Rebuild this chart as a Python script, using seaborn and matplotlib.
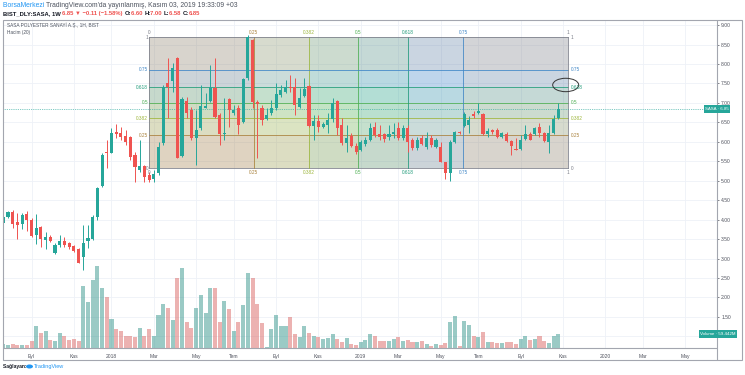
import matplotlib
matplotlib.use("Agg")
import matplotlib.pyplot as plt
import matplotlib.dates as mdates
from matplotlib.patches import Rectangle, Ellipse
from matplotlib.lines import Line2D
import pandas as pd
import seaborn as sns

# weekly candles, first bar week of 2017-07-24
first_week = "2017-07-24"
opens = [3.90, 4.06, 4.19, 3.94, 3.88, 4.14, 3.99, 3.60, 3.80, 3.47,
         3.56, 3.14, 3.35, 3.46, 3.39, 3.32, 3.24, 3.05, 3.46, 3.51,
         4.07, 4.86, 5.72, 5.72, 6.25, 6.22, 6.15, 6.12, 5.66, 5.27,
         5.39, 5.15, 5.05, 5.21, 5.96, 7.50, 7.55, 8.15, 5.64, 7.05,
         6.82, 6.11, 6.35, 6.88, 7.05, 7.39, 6.69, 6.20, 7.10, 6.75,
         6.88, 6.50, 7.65, 8.62, 7.03, 6.88, 6.59, 6.73, 6.86, 7.20,
         7.29, 7.42, 7.40, 6.90, 7.18, 7.44, 6.41, 6.53, 6.38, 6.43,
         6.59, 7.05, 6.43, 5.98, 6.15, 5.90, 5.79, 5.94, 6.05, 6.38,
         6.20, 6.19, 6.12, 6.19, 6.35, 6.11, 6.36, 6.05, 5.83, 6.09,
         5.87, 6.09, 5.87, 5.87, 5.47, 5.19, 5.99, 6.26, 6.41, 6.43,
         6.71, 6.74, 6.71, 6.19, 6.30, 6.30, 6.13, 6.19, 6.02, 5.81,
         5.81, 6.06, 6.19, 6.19, 6.39, 6.22, 5.99, 6.22, 6.60]
highs = [4.15, 4.22, 4.25, 4.17, 4.16, 4.22, 4.03, 4.14, 3.84, 3.69,
         3.60, 3.39, 3.60, 3.56, 3.43, 3.34, 3.26, 3.86, 3.86, 4.12,
         4.83, 5.72, 6.05, 6.35, 6.45, 6.37, 6.30, 6.14, 5.75, 6.05,
         5.40, 5.23, 5.28, 6.00, 7.46, 8.15, 8.02, 8.19, 7.16, 7.16,
         6.90, 6.82, 7.46, 7.25, 7.97, 8.15, 6.73, 7.13, 7.13, 6.95,
         6.95, 7.63, 8.75, 8.65, 7.07, 6.95, 6.86, 7.07, 7.50, 7.46,
         7.59, 7.72, 7.63, 7.38, 7.63, 7.46, 6.69, 6.69, 6.52, 6.73,
         7.12, 7.07, 6.60, 6.43, 6.22, 5.96, 6.05, 6.13, 6.48, 6.52,
         6.43, 6.22, 6.43, 6.48, 6.52, 6.43, 6.43, 6.09, 6.13, 6.17,
         6.26, 6.17, 6.09, 6.00, 5.49, 6.05, 6.28, 6.27, 6.76, 6.65,
         6.79, 6.99, 6.73, 6.35, 6.33, 6.35, 6.26, 6.26, 6.05, 6.09,
         6.17, 6.43, 6.26, 6.39, 6.48, 6.26, 6.43, 6.69, 7.00]
lows = [3.80, 4.03, 3.78, 3.50, 3.75, 3.71, 3.56, 3.37, 3.30, 3.25,
        3.43, 3.12, 3.30, 3.30, 3.25, 3.17, 2.88, 2.70, 3.26, 3.48,
        3.99, 4.85, 5.33, 5.70, 6.09, 6.05, 5.92, 5.53, 4.97, 5.23,
        4.97, 4.97, 4.97, 5.15, 5.92, 6.60, 7.29, 5.58, 5.62, 6.60,
        6.05, 5.40, 6.30, 6.86, 7.03, 6.60, 5.92, 6.05, 6.39, 6.69,
        6.19, 6.48, 7.60, 6.86, 5.58, 6.43, 6.56, 6.69, 6.82, 7.16,
        7.25, 7.29, 6.69, 6.86, 7.16, 6.39, 6.05, 6.26, 6.35, 6.22,
        6.52, 6.17, 5.92, 5.75, 5.87, 5.68, 5.76, 5.90, 6.02, 6.13,
        6.05, 5.99, 6.05, 6.09, 6.05, 6.05, 5.75, 5.79, 5.79, 5.92,
        5.81, 5.87, 5.83, 5.47, 5.04, 4.99, 5.96, 6.20, 6.39, 6.22,
        6.60, 6.71, 6.17, 6.13, 6.20, 6.09, 6.09, 5.99, 5.66, 5.79,
        5.80, 6.05, 6.05, 6.17, 6.13, 5.99, 5.70, 6.19, 6.58]
closes = [4.06, 4.19, 3.88, 3.85, 4.12, 3.99, 3.58, 3.78, 3.50, 3.56,
          3.46, 3.35, 3.46, 3.34, 3.29, 3.20, 2.89, 3.39, 3.53, 4.06,
          4.80, 5.66, 5.70, 6.22, 6.21, 6.12, 6.00, 5.62, 5.36, 5.39,
          5.09, 5.02, 5.17, 5.87, 7.42, 7.40, 7.89, 5.59, 7.10, 6.73,
          6.11, 6.30, 6.91, 6.93, 7.41, 6.64, 6.19, 6.23, 6.82, 6.82,
          6.43, 7.61, 8.70, 7.02, 6.96, 6.56, 6.69, 6.88, 7.22, 7.32,
          7.41, 7.38, 6.95, 7.12, 7.35, 6.41, 6.53, 6.38, 6.45, 6.56,
          6.99, 6.35, 5.96, 6.11, 5.90, 5.75, 5.99, 6.05, 6.36, 6.17,
          6.12, 6.07, 6.21, 6.26, 6.09, 6.36, 6.00, 5.83, 6.05, 5.94,
          6.11, 5.92, 6.05, 5.49, 5.19, 6.00, 6.24, 6.22, 6.71, 6.56,
          6.66, 6.79, 6.19, 6.28, 6.24, 6.13, 6.22, 6.02, 5.90, 5.80,
          6.05, 6.21, 6.05, 6.35, 6.22, 6.02, 6.22, 6.59, 6.85]
# volume, millions
volumes = [18, 13, 17, 11, 14, 11, 31, 95, 62, 72,
           35, 31, 65, 50, 35, 38, 30, 265, 196, 288,
           350, 255, 218, 123, 82, 71, 52, 52, 45, 84,
           49, 81, 51, 140, 186, 171, 119, 299, 339, 112,
           86, 169, 225, 147, 254, 254, 112, 200, 166, 72,
           109, 183, 317, 296, 186, 105, 6, 81, 140, 95,
           95, 133, 58, 47, 92, 64, 51, 45, 38, 41,
           61, 38, 27, 41, 17, 13, 24, 34, 61, 51,
           28, 28, 31, 40, 45, 28, 33, 24, 26, 30,
           16, 10, 17, 13, 21, 110, 137, 10, 115, 96,
           52, 47, 67, 26, 24, 20, 21, 24, 27, 17,
           40, 51, 35, 40, 51, 30, 20, 50, 59.442]

tick_dates = ["2017-09-04", "2017-11-06", "2018-01-01", "2018-03-05", "2018-05-07",
              "2018-07-02", "2018-09-03", "2018-11-05", "2019-01-07", "2019-03-04",
              "2019-05-06", "2019-07-01", "2019-09-02", "2019-11-04", "2020-01-06",
              "2020-03-02", "2020-05-04"]
tick_labels = ["Eyl", "Kas", "2018", "Mar", "May", "Tem", "Eyl", "Kas", "2019",
               "Mar", "May", "Tem", "Eyl", "Kas", "2020", "Mar", "May"]
price_ticks = [1.0, 1.5, 2.0, 2.5, 3.0, 3.5, 4.0, 4.5, 5.0, 5.5, 6.0, 6.5,
               7.0, 7.5, 8.0, 8.5, 9.0]

# gann box drawing
box_start, box_end = "2018-02-26", "2019-11-11"
box_low, box_high = 5.32, 8.69
box_levels = [0, 0.25, 0.382, 0.5, 0.618, 0.75, 1]
box_colors = ["#787b86", "#a8803a", "#9cb53a", "#4caf50", "#1e9a78", "#3d85c6", "#787b86"]
band_colors = ["#a07a45", "#94b048", "#4caf50", "#1a9c84", "#3b83c8", "#7d7f88"]
circle_date, circle_price = "2019-11-08", 7.46

UP, DOWN = "#26a69a", "#ef5350"
W, H = 745, 375

df = pd.DataFrame({"open": opens, "high": highs, "low": lows,
                   "close": closes, "volume": volumes})
df["date"] = pd.date_range(first_week, periods=len(df), freq="7D")
df["x"] = mdates.date2num(df["date"])
df["dir"] = ["up" if c >= o else "down" for o, c in zip(df["open"], df["close"])]
colors = [UP if d == "up" else DOWN for d in df["dir"]]

sns.set_theme(style="white")
plt.rcParams["font.family"] = ["Liberation Sans", "DejaVu Sans"]

fig = plt.figure(figsize=(7.45, 3.75), dpi=100)
ax = fig.add_axes([2.5 / W, 1 - 348 / H, (717 - 2.5) / W, (348 - 20) / H])
d0 = df["x"].iloc[0]
ax.set_xlim(d0 - 1.2, d0 + 1062.2)
ax.set_ylim(0.70, 9.13)

# grid
tx = mdates.date2num(pd.to_datetime(tick_dates))
for v in tx:
    ax.axvline(v, color="#eef1f7", lw=0.6, zorder=0)
for p in price_ticks:
    ax.axhline(p, color="#eef1f7", lw=0.6, zorder=0)

# gann box
bx0, bx1 = mdates.date2num(pd.to_datetime([box_start, box_end]))
bw, bh = bx1 - bx0, box_high - box_low
for i in range(6):
    a, b = box_levels[i], box_levels[i + 1]
    ax.add_patch(Rectangle((bx0 + a * bw, box_low), (b - a) * bw, bh,
                           color=band_colors[i], alpha=0.18, lw=0, zorder=1))
    ax.add_patch(Rectangle((bx0, box_low + a * bh), bw, (b - a) * bh,
                           color=band_colors[i], alpha=0.18, lw=0, zorder=1))
for lv, c in zip(box_levels, box_colors):
    ax.plot([bx0 + lv * bw] * 2, [box_low, box_high], color=c, lw=0.7, alpha=0.8, zorder=2)
    ax.plot([bx0, bx1], [box_low + lv * bh] * 2, color=c, lw=0.7, alpha=0.8, zorder=2)

# candles
bodies = (df["close"] - df["open"]).abs().clip(lower=0.025)
bottoms = df[["open", "close"]].min(axis=1)
ax.vlines(df["x"], df["low"], df["high"], colors=colors, lw=0.7, zorder=3)
ax.bar(df["x"], bodies, bottom=bottoms, width=4.6, color=colors, lw=0, zorder=4)

# last price line
last = df["close"].iloc[-1]
ax.axhline(last, color=UP, lw=0.6, ls=(0, (1, 1.2)), alpha=0.8, zorder=2)

# volume overlay
vax = ax.twinx()
sns.barplot(data=df, x="x", y="volume", hue="dir", palette={"up": UP, "down": DOWN},
            native_scale=True, dodge=False, width=0.86, alpha=0.5, linewidth=0,
            errorbar=None, legend=False, ax=vax)
vax.set_ylim(0, 1393)
vax.set_xlim(d0 - 1.2, d0 + 1062.2)
vax.set_yticks([])
vax.set_xlabel("")
vax.set_ylabel("")
for s in vax.spines.values():
    s.set_visible(False)

ax.add_patch(Ellipse((mdates.date2num(pd.to_datetime(circle_date)), circle_price),
                     width=38.7, height=0.345, fill=False, ec="#333333", lw=0.7, zorder=6))

for s in ax.spines.values():
    s.set_visible(False)
ax.set_xticks(tx)
ax.set_xticklabels(tick_labels)
ax.set_yticks(price_ticks)
# 1.00 sits under the volume value label, so it is left blank
ax.set_yticklabels(["" if p == 1.0 else f"{p:.2f}" for p in price_ticks])
ax.yaxis.tick_right()
ax.tick_params(axis="both", labelsize=3.6, colors="#50535e", length=1.5, width=0.5, pad=1.5)
ax.tick_params(axis="x", pad=2.5)


def px(x, y):
    return x / W, 1 - y / H


# level labels of gann box
lab = dict(fontsize=3.4, va="center", zorder=7)
for lv, c in zip(box_levels, box_colors):
    txt = f"{lv:g}"
    xv = bx0 + lv * bw
    yv = box_low + lv * bh
    ax.text(xv, box_high + 0.11, txt, color=c, ha="center", **lab)
    ax.text(xv, box_low - 0.11, txt, color=c, ha="center", **lab)
    ax.text(bx0 - 1.5, yv, txt, color=c, ha="right", **lab)
    ax.text(bx1 + 4, yv, txt, color=c, ha="left", **lab)

# frame
fig.add_artist(Rectangle(px(2.5, 360), (742 - 2.5) / W, (360 - 20) / H, transform=fig.transFigure,
                         fill=False, ec="#a3a6af", lw=0.8))
fig.add_artist(Line2D([717 / W] * 2, [1 - 360 / H, 1 - 20 / H], transform=fig.transFigure,
                      color="#a3a6af", lw=0.8))
fig.add_artist(Line2D([2.5 / W, 717 / W], [1 - 348 / H] * 2, transform=fig.transFigure,
                      color="#a3a6af", lw=0.8))

# value labels on price scale
fig.text(*px(717, 109), "SASA · 6.85", fontsize=3.2, color="white", ha="center", va="center",
         bbox=dict(boxstyle="square,pad=0.35", fc=UP, ec="none"))
fig.text(*px(718, 334), "Volume · 59.442M", fontsize=3.2, color="white", ha="center", va="center",
         bbox=dict(boxstyle="square,pad=0.35", fc=UP, ec="none"))

renderer = fig.canvas.get_renderer()


def seg_text(x, y, parts, size, weight="normal"):
    for s, c in parts:
        t = fig.text(*px(x, y), s, color=c, fontsize=size, fontweight=weight, va="center", ha="left")
        x += t.get_window_extent(renderer=renderer).width


seg_text(3, 5.5, [("BorsaMerkezi ", "#2196f3"),
                  ("TradingView.com'da yayınlanmış, Kasım 03, 2019 19:33:09 +03", "#4c525e")], 4.9)
seg_text(3, 13.5, [("BIST_DLY:SASA, 1W ", "#131722"), ("6.85 ▼ −0.11 (−1.58%) ", DOWN),
                   ("O:", "#131722"), ("6.60 ", DOWN), ("H:", "#131722"), ("7.00 ", DOWN),
                   ("L:", "#131722"), ("6.58 ", DOWN), ("C:", "#131722"), ("6.85", DOWN)],
         4.2, "bold")
fig.text(*px(7, 25.5), "SASA POLYESTER SANAYİ A.Ş., 1H, BIST", fontsize=3.4, color="#4c525e", va="center")
fig.text(*px(7, 32.5), "Hacim (20)", fontsize=3.4, color="#4c525e", va="center")
seg_text(3, 366.5, [("Sağlayan: ", "#131722")], 3.6, "bold")
seg_text(34, 366.5, [("TradingView", "#2196f3")], 4.0)
fig.add_artist(Ellipse(px(29.5, 366.5), 7 / W, 4 / H, transform=fig.transFigure, color="#2196f3", lw=0))

fig.savefig("out.png", dpi=100)
